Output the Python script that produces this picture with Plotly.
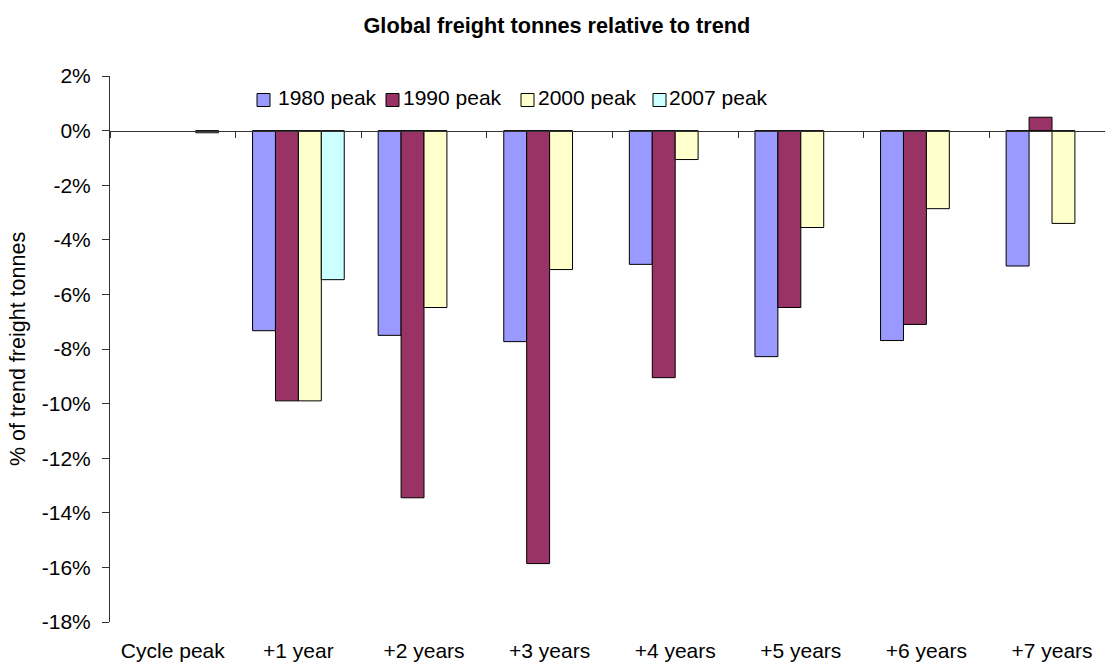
import plotly.graph_objects as go

# Categories along the cycle and freight tonnes relative to trend (%)
categories = ["Cycle peak", "+1 year", "+2 years", "+3 years", "+4 years",
              "+5 years", "+6 years", "+7 years"]
peak_1980 = [None, -7.33, -7.50, -7.73, -4.90, -8.28, -7.69, -4.96]
peak_1990 = [None, -9.90, -13.45, -15.86, -9.05, -6.48, -7.10, 0.49]
peak_2000 = [None, -9.90, -6.48, -5.09, -1.06, -3.55, -2.86, -3.40]
peak_2007 = [-0.08, -5.46, None, None, None, None, None, None]

series_names = ["1980 peak", "1990 peak", "2000 peak", "2007 peak"]
series_values = [peak_1980, peak_1990, peak_2000, peak_2007]
series_colors = ["#9999FF", "#993366", "#FFFFCC", "#CCFFFF"]

FONT = "Liberation Sans, Arial, sans-serif"
W, H = 1105, 663
M_L, M_R, M_T, M_B = 110, 0, 76, 41
PLOT_W = W - M_L - M_R
PLOT_H = H - M_T - M_B

x_pos = list(range(len(categories)))
x_range = [-0.5, 7.422]


def px_to_paper_x(px):
    return (px - M_L) / PLOT_W


def px_to_paper_y(py):
    return 1 - (py - M_T) / PLOT_H


fig = go.Figure()
for name, vals, color in zip(series_names, series_values, series_colors):
    fig.add_trace(go.Bar(
        x=x_pos, y=vals, name=name, showlegend=False,
        marker=dict(color=color, line=dict(color="black", width=1)),
    ))

# helper trace so the zero-line axis (x2) is drawn
fig.add_trace(go.Scatter(x=[0], y=[0], xaxis="x2", yaxis="y",
                         mode="none", showlegend=False, hoverinfo="skip"))

# Legend drawn as swatches + labels in a single row inside the plot
legend_box_px = [257, 386, 521, 653]
legend_text_px = [276, 401, 536, 667]
legend_y_px = 100
box = 13
for name, color, bx, tx in zip(series_names, series_colors,
                               legend_box_px, legend_text_px):
    fig.add_shape(type="rect", xref="paper", yref="paper",
                  x0=px_to_paper_x(bx), x1=px_to_paper_x(bx + box),
                  y0=px_to_paper_y(legend_y_px + box / 2),
                  y1=px_to_paper_y(legend_y_px - box / 2),
                  fillcolor=color, line=dict(color="black", width=1))
    fig.add_annotation(text=name, xref="paper", yref="paper",
                       x=px_to_paper_x(tx), xanchor="left",
                       y=px_to_paper_y(legend_y_px - 2), yanchor="middle",
                       showarrow=False,
                       font=dict(family=FONT, size=21, color="black"))

fig.update_layout(
    width=W, height=H,
    paper_bgcolor="white", plot_bgcolor="white",
    margin=dict(l=M_L, r=M_R, t=M_T, b=M_B),
    barmode="group", bargap=0.27, bargroupgap=0,
    showlegend=False,
    font=dict(family=FONT, size=21, color="black"),
    title=dict(text="<b>Global freight tonnes relative to trend</b>",
               x=0.504, xref="container", xanchor="center",
               y=0.962, yref="container", yanchor="middle",
               font=dict(family=FONT, size=21.7, color="black")),
    xaxis=dict(range=x_range, tickmode="array", tickvals=x_pos,
               ticktext=categories, showline=False, ticks="",
               showgrid=False, zeroline=False, ticklabelstandoff=14,
               tickfont=dict(family=FONT, size=21, color="black")),
    xaxis2=dict(range=x_range, overlaying="x", anchor="free", position=0.9,
                side="bottom", showline=True, linecolor="#333333", linewidth=1,
                ticks="outside", ticklen=6, tickcolor="#333333",
                tickmode="array", tickvals=[i - 0.5 for i in range(9)],
                showticklabels=False, showgrid=False, zeroline=False),
    yaxis=dict(range=[-18, 2], tickmode="array",
               tickvals=list(range(-18, 3, 2)),
               ticktext=[f"{v}%" for v in range(-18, 3, 2)],
               showline=True, linecolor="#333333", linewidth=1,
               ticks="outside", ticklen=7, tickcolor="#333333",
               showgrid=False, zeroline=False, ticklabelstandoff=7,
               tickfont=dict(family=FONT, size=21, color="black"),
               title=dict(text="% of trend freight tonnes", standoff=10,
                          font=dict(family=FONT, size=21.5, color="black"))),
)

fig.write_html("out.html")
